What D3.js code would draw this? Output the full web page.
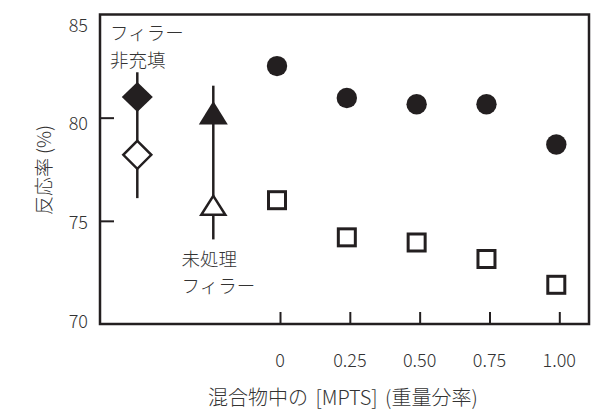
<!DOCTYPE html>
<html>
<head>
<meta charset="utf-8">
<script src="https://cdn.jsdelivr.net/npm/d3@7"></script>
<style>
  body { margin: 0; background: #fff; }
  svg { display: block; }
  text { font-family: "Noto Sans CJK JP", "Noto Sans", sans-serif; fill: #333; font-weight: 300; }
</style>
</head>
<body>
<svg id="chart" width="599" height="409"></svg>
<script>
// MPTS weight fraction in the blend and the two measured series
const mptsFractions = [0, 0.25, 0.5, 0.75, 1.0];
const xTickLabels = ["0", "0.25", "0.50", "0.75", "1.00"];
const yTicks = [70, 75, 80, 85];
const filledCircleValues = [82.5, 80.95, 80.65, 80.65, 78.7];
const openSquareValues = [76.0, 74.2, 73.95, 73.15, 71.9];

// Reference samples: no filler / untreated filler
const refGroups = ["nofiller", "untreated"];
const refShapes = ["diamond", "triangle"];
const refFilledValues = [81.0, 80.05];
const refOpenValues = [78.2, 75.6];
const refErrHigh = [82.2, 81.55];
const refErrLow = [76.1, 74.1];
const refLabels = [["フィラー", "非充填"], ["未処理", "フィラー"]];

const yAxisTitle = "反応率 (%)";
const xAxisTitle = "混合物中の [MPTS] (重量分率)";

const ink = "#231f20";
const frame = { left: 100, right: 589, top: 14.5, bottom: 324 };

const svg = d3.select("#chart");

const x = d3.scaleLinear().domain([0, 1]).range([277, 556.3]);
const tickShift = 3;
const xRef = d3.scalePoint().domain(refGroups).range([137.3, 213.3]);
const y = d3.scaleLinear().domain([70, 85]).range([frame.bottom, frame.top]);
const yLabelPos = d3.scaleLinear().domain([70, 85]).range([320, 23.5]);

// Frame
svg.append("rect")
  .attr("x", frame.left).attr("y", frame.top)
  .attr("width", frame.right - frame.left).attr("height", frame.bottom - frame.top)
  .attr("fill", "none").attr("stroke", ink).attr("stroke-width", 2.5);

// Y axis: inward ticks, labels to the left
svg.append("g")
  .attr("transform", `translate(${frame.left},0)`)
  .call(d3.axisRight(y).tickValues(yTicks.filter(v => v > 70 && v < 85)).tickSize(14).tickFormat(""))
  .call(g => g.select(".domain").remove())
  .call(g => g.selectAll("line").attr("stroke", ink).attr("stroke-width", 2));

svg.append("g").selectAll("text")
  .data(yTicks)
  .join("text")
  .attr("x", 88)
  .attr("y", d => yLabelPos(d))
  .attr("text-anchor", "end")
  .attr("dominant-baseline", "central")
  .attr("font-size", 18)
  .text(d => d);

// X axis: inward ticks, labels below
svg.append("g")
  .attr("transform", `translate(${tickShift},${frame.bottom})`)
  .call(d3.axisTop(x).tickValues(mptsFractions).tickSize(12).tickFormat(""))
  .call(g => g.select(".domain").remove())
  .call(g => g.selectAll("line").attr("stroke", ink).attr("stroke-width", 2));

svg.append("g").selectAll("text")
  .data(mptsFractions)
  .join("text")
  .attr("x", d => x(d) + tickShift)
  .attr("y", 358.5)
  .attr("text-anchor", "middle")
  .attr("dominant-baseline", "central")
  .attr("font-size", 18)
  .text((d, i) => xTickLabels[i]);

// Axis titles
svg.append("text")
  .attr("transform", "translate(42,170) rotate(-90)")
  .attr("text-anchor", "middle")
  .attr("dominant-baseline", "central")
  .attr("font-size", 19)
  .text(yAxisTitle);

svg.append("text")
  .attr("x", 208)
  .attr("y", 396)
  .attr("dominant-baseline", "central")
  .attr("font-size", 20)
  .attr("word-spacing", 3)
  .text(xAxisTitle);

// Marker shapes
const diamondPath = (hw, hh) => `M0,${-hh}L${hw},0L0,${hh}L${-hw},0Z`;
const trianglePath = (w, h) => `M0,${-2 * h / 3}L${w / 2},${h / 3}L${-w / 2},${h / 3}Z`;
const shapePath = {
  diamond: { filled: diamondPath(15.5, 15), open: diamondPath(14, 14) },
  triangle: { filled: trianglePath(29, 23.3), open: trianglePath(24, 18.8) }
};

// Reference error bars
const refG = svg.append("g");
refG.selectAll("line.err")
  .data(refGroups)
  .join("line")
  .attr("class", "err")
  .attr("x1", d => xRef(d)).attr("x2", d => xRef(d))
  .attr("y1", (d, i) => y(refErrHigh[i]))
  .attr("y2", (d, i) => y(refErrLow[i]))
  .attr("stroke", ink).attr("stroke-width", 2.5);

refG.selectAll("path.filled")
  .data(refGroups)
  .join("path")
  .attr("class", "filled")
  .attr("transform", (d, i) => `translate(${xRef(d)},${y(refFilledValues[i])})`)
  .attr("d", (d, i) => shapePath[refShapes[i]].filled)
  .attr("fill", ink);

refG.selectAll("path.open")
  .data(refGroups)
  .join("path")
  .attr("class", "open")
  .attr("transform", (d, i) => `translate(${xRef(d)},${y(refOpenValues[i])})`)
  .attr("d", (d, i) => shapePath[refShapes[i]].open)
  .attr("fill", "#fff").attr("stroke", ink).attr("stroke-width", 2.5)
  .attr("stroke-linejoin", "miter");

// Reference annotations, two lines each
const annPos = [{ x: 110, y: 31.5 }, { x: 181.5, y: 257.5 }];
refLabels.forEach((lines, i) => {
  svg.append("g").selectAll("text")
    .data(lines)
    .join("text")
    .attr("x", annPos[i].x)
    .attr("y", (d, j) => annPos[i].y + j * 27)
    .attr("dominant-baseline", "central")
    .attr("font-size", 18.5)
    .text(d => d);
});

// MPTS series
svg.append("g").selectAll("circle")
  .data(mptsFractions)
  .join("circle")
  .attr("cx", d => x(d))
  .attr("cy", (d, i) => y(filledCircleValues[i]))
  .attr("r", 10.2)
  .attr("fill", ink);

const sq = 17;
svg.append("g").selectAll("rect")
  .data(mptsFractions)
  .join("rect")
  .attr("x", d => x(d) - sq / 2)
  .attr("y", (d, i) => y(openSquareValues[i]) - sq / 2)
  .attr("width", sq).attr("height", sq)
  .attr("fill", "#fff").attr("stroke", ink).attr("stroke-width", 3);
</script>
</body>
</html>
